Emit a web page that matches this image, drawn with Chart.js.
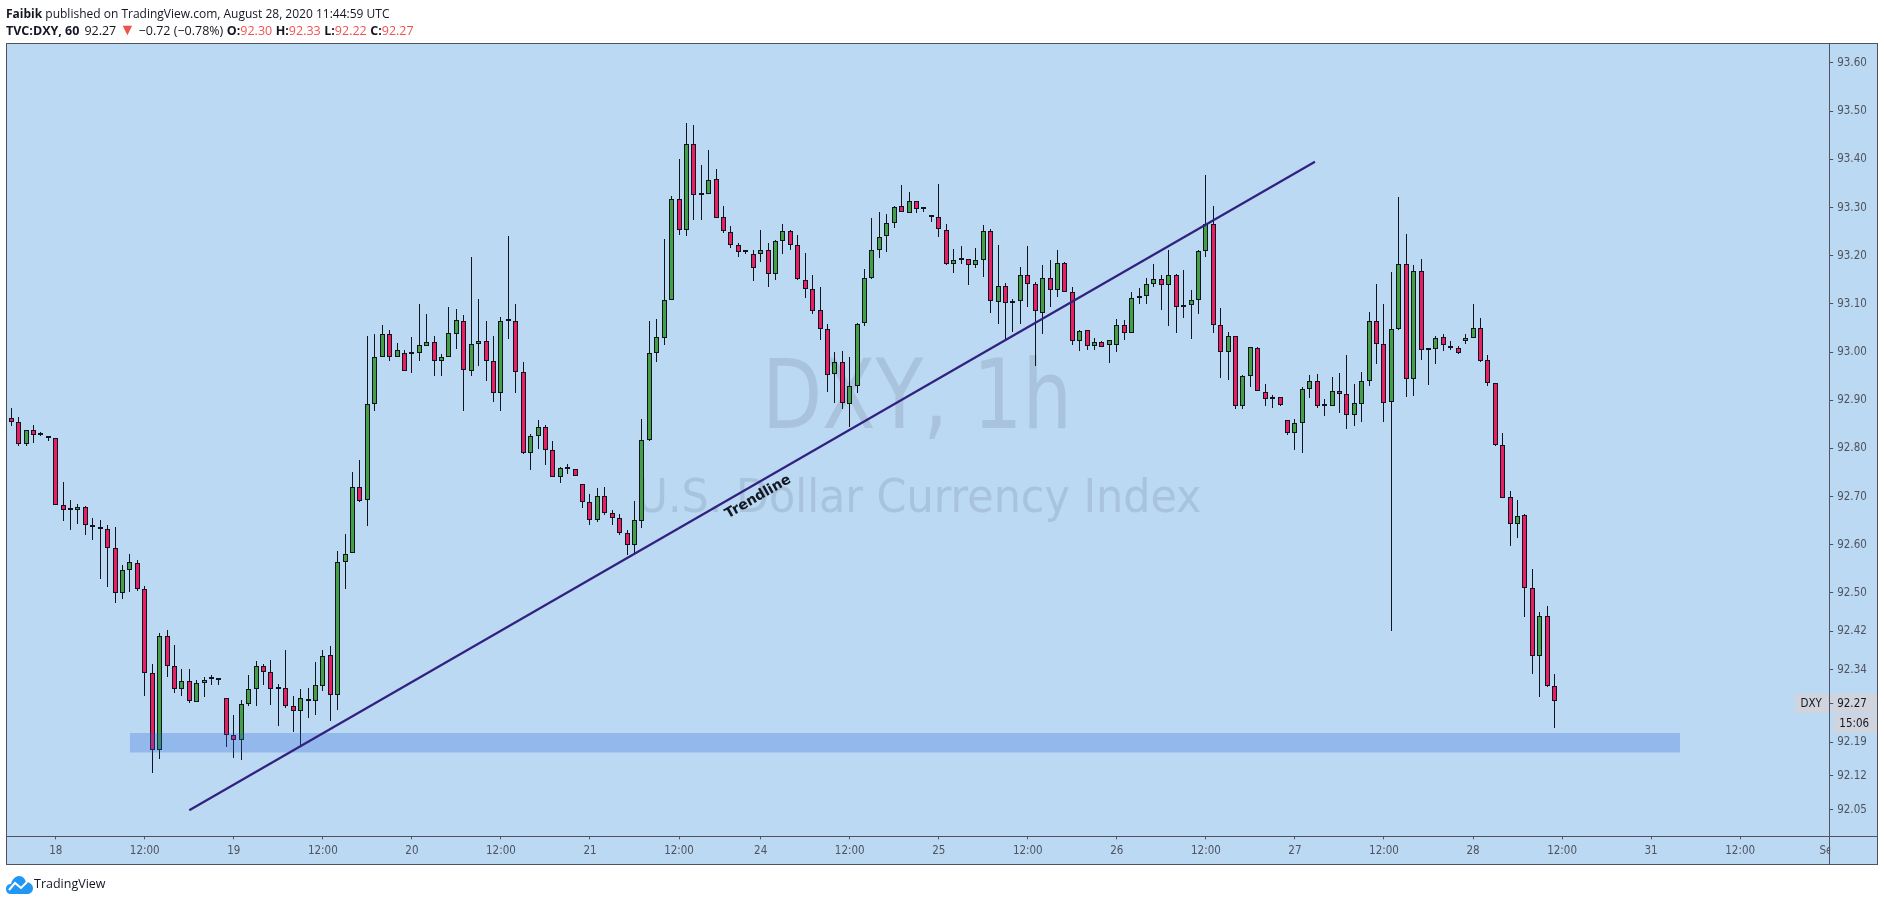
<!DOCTYPE html>
<html>
<head>
<meta charset="utf-8">
<title>DXY 1h</title>
<script src="https://cdn.jsdelivr.net/npm/chart.js@4"></script>
<style>
    html, body { margin: 0; padding: 0; background: #fff; width: 1884px; height: 902px; overflow: hidden; }
    #wrap { position: absolute; left: 0; top: 0; width: 1884px; height: 902px; }
    .hdr { position: absolute; left: 6px; font: 12px "Open Sans", sans-serif; color: #131722; white-space: nowrap; }
    .hdr b { font-weight: 700; }
    .hdr i { font-style: normal; color: #ef5350; }
    .hdr i.tri { font-size: 16px; line-height: 0; }
    #line1 { top: 5px; }
    #line2 { top: 22px; font-size: 12.5px; }
    #line2 span { margin-left: 3.5px; }
    #logo { position: absolute; left: 6px; top: 875px; }
    #brand { position: absolute; left: 34px; top: 875px; font: 12.5px "Open Sans", sans-serif; color: #131722; }
</style>
</head>
<body>
<div id="wrap"><canvas id="chart" width="1884" height="902"></canvas></div>
<div class="hdr" id="line1"><b>Faibik</b> published on TradingView.com, August 28, 2020 11:44:59 UTC</div>
<div class="hdr" id="line2"><b>TVC:DXY, 60</b><span style="margin-left:5px">92.27</span> <i class="tri">▼</i> −0.72 (−0.78%)<span><b>O:</b><i>92.30</i></span><span><b>H:</b><i>92.33</i></span><span><b>L:</b><i>92.22</i></span><span><b>C:</b><i>92.27</i></span></div>
<svg id="logo" width="27" height="19" viewBox="0 0 27 19"><path d="M0 14 C0 10 3 9 5 9 C6 4 10 1 13 1 C17 1 19 4 20 7 C24 7 27 10 27 13 C27 17 24 19 21 19 L5 19 C2 19 0 17 0 14 Z" fill="#2196f3"/><path d="M3 15 L9 8 L15 13 L21 7" fill="none" stroke="#fff" stroke-width="2"/></svg>
<div id="brand">TradingView</div>

<script>
// hourly bars, oldest first
const opens = [92.863,92.854,92.809,92.838,92.827,92.825,92.821,92.682,92.672,92.672,92.678,92.640,92.636,92.632,92.593,92.499,92.547,92.562,92.508,92.333,
    92.173,92.410,92.348,92.300,92.317,92.273,92.312,92.321,92.319,92.281,92.205,92.194,92.269,92.300,92.348,92.335,92.301,92.302,92.265,92.254,
    92.279,92.275,92.306,92.371,92.288,92.564,92.583,92.720,92.693,92.892,92.989,93.037,92.989,92.998,92.996,92.998,93.012,93.021,92.981,92.989,
    93.037,93.064,92.960,93.016,93.023,92.981,92.915,93.064,93.064,92.958,92.790,92.825,92.844,92.796,92.740,92.758,92.757,92.726,92.688,92.651,
    92.701,92.666,92.655,92.624,92.599,92.649,92.817,92.998,93.030,93.108,93.318,93.253,93.432,93.327,93.328,93.359,93.280,93.249,93.222,93.207,
    93.203,93.203,93.212,93.162,93.230,93.251,93.222,93.149,93.131,93.087,93.048,92.954,92.979,92.892,92.929,93.060,93.154,93.212,93.241,93.268,
    93.303,93.288,93.313,93.296,93.284,93.280,93.253,93.183,93.192,93.193,93.180,93.191,93.251,93.104,93.137,93.102,93.106,93.160,93.141,93.081,
    93.153,93.129,93.185,93.124,93.023,93.046,93.012,93.021,93.014,93.014,93.056,93.039,93.112,93.116,93.141,93.151,93.139,93.160,93.093,93.097,
    93.108,93.210,93.266,93.056,93.000,93.033,92.888,92.950,93.008,92.917,92.902,92.906,92.859,92.832,92.852,92.923,92.940,92.889,92.888,92.919,
    92.913,92.869,92.892,92.940,93.064,93.016,92.896,93.048,93.183,92.944,93.168,93.004,93.006,93.031,93.012,93.008,93.023,93.029,93.050,92.983,
    92.935,92.807,92.699,92.643,92.661,92.510,92.369,92.452,92.306];
const highs = [92.883,92.865,92.838,92.848,92.834,92.826,92.821,92.730,92.692,92.684,92.680,92.655,92.651,92.640,92.637,92.557,92.580,92.568,92.514,92.352,
    92.416,92.423,92.391,92.342,92.342,92.319,92.325,92.329,92.321,92.281,92.246,92.277,92.329,92.358,92.352,92.360,92.310,92.381,92.285,92.300,
    92.302,92.356,92.381,92.389,92.587,92.622,92.751,92.776,93.033,93.037,93.056,93.045,93.018,93.004,93.031,93.099,93.079,93.033,92.996,93.093,
    93.089,93.077,93.197,93.110,93.064,93.033,93.072,93.240,93.099,92.979,92.830,92.859,92.848,92.815,92.761,92.767,92.757,92.726,92.705,92.717,
    92.720,92.672,92.663,92.630,92.690,92.861,93.064,93.068,93.234,93.324,93.401,93.475,93.471,93.388,93.419,93.380,93.303,93.261,93.226,93.210,
    93.212,93.253,93.226,93.232,93.266,93.253,93.243,93.205,93.160,93.135,93.058,93.000,93.002,92.990,93.060,93.172,93.278,93.291,93.286,93.303,
    93.347,93.332,93.313,93.299,93.284,93.349,93.266,93.214,93.220,93.193,93.216,93.264,93.255,93.222,93.143,93.110,93.176,93.220,93.145,93.180,
    93.191,93.212,93.187,93.135,93.046,93.046,93.029,93.023,93.025,93.068,93.066,93.124,93.133,93.153,93.183,93.160,93.212,93.162,93.170,93.129,
    93.212,93.367,93.303,93.091,93.041,93.033,92.952,93.010,93.010,92.933,92.911,92.906,92.859,92.861,92.927,92.952,92.954,92.902,92.948,92.956,
    92.994,92.933,92.958,93.083,93.141,93.100,93.166,93.322,93.245,93.180,93.193,93.004,93.033,93.037,93.023,93.012,93.037,93.100,93.070,92.994,
    92.935,92.832,92.711,92.693,92.663,92.549,92.460,92.472,92.332];
const lows = [92.847,92.806,92.804,92.812,92.825,92.816,92.682,92.650,92.631,92.643,92.621,92.609,92.528,92.513,92.480,92.488,92.502,92.505,92.285,92.127,
    92.156,92.326,92.293,92.287,92.272,92.273,92.283,92.308,92.308,92.181,92.158,92.154,92.265,92.266,92.309,92.268,92.223,92.261,92.212,92.185,
    92.241,92.247,92.297,92.235,92.256,92.509,92.583,92.688,92.638,92.877,92.989,92.982,92.989,92.960,92.956,92.982,93.012,92.951,92.951,92.989,
    93.007,92.878,92.951,92.972,92.939,92.897,92.877,93.028,92.914,92.788,92.756,92.798,92.765,92.740,92.729,92.746,92.742,92.677,92.640,92.648,
    92.661,92.642,92.620,92.578,92.583,92.634,92.815,92.980,93.014,93.108,93.242,93.240,93.275,93.275,93.328,93.278,93.248,93.217,93.198,93.203,
    93.147,93.186,93.136,93.149,93.203,93.211,93.149,93.113,93.080,93.024,92.918,92.895,92.881,92.844,92.914,93.055,93.151,93.196,93.207,93.257,
    93.291,93.288,93.288,93.291,93.270,93.238,93.181,93.165,93.183,93.140,93.174,93.155,93.082,93.059,93.023,93.041,93.059,93.093,92.970,93.037,
    93.093,93.115,93.124,93.014,93.003,93.005,93.005,93.010,92.978,93.001,93.024,93.039,93.099,93.099,93.134,93.088,93.055,93.039,93.070,93.028,
    93.078,93.198,93.039,92.947,92.943,92.881,92.881,92.928,92.919,92.888,92.884,92.888,92.828,92.796,92.790,92.904,92.884,92.868,92.888,92.873,
    92.840,92.846,92.855,92.929,92.975,92.855,92.421,93.046,92.906,92.908,92.983,92.931,92.975,93.002,93.004,92.996,93.016,93.029,92.979,92.929,
    92.804,92.697,92.598,92.613,92.449,92.331,92.283,92.304,92.219];
const closes = [92.854,92.809,92.838,92.827,92.827,92.821,92.682,92.672,92.672,92.678,92.640,92.636,92.632,92.593,92.499,92.547,92.564,92.508,92.333,92.173,
    92.410,92.348,92.300,92.317,92.275,92.312,92.319,92.321,92.319,92.205,92.194,92.269,92.300,92.348,92.335,92.300,92.301,92.265,92.254,92.281,
    92.275,92.308,92.369,92.288,92.564,92.580,92.720,92.690,92.892,92.989,93.037,92.989,93.004,92.960,92.996,93.014,93.021,92.981,92.989,93.039,
    93.066,92.962,93.016,93.023,92.981,92.915,93.064,93.064,92.958,92.790,92.825,92.844,92.796,92.740,92.759,92.758,92.742,92.688,92.651,92.701,
    92.666,92.655,92.624,92.599,92.651,92.817,92.998,93.031,93.108,93.318,93.253,93.432,93.326,93.327,93.357,93.278,93.251,93.222,93.208,93.207,
    93.174,93.212,93.162,93.230,93.251,93.222,93.151,93.131,93.085,93.048,92.952,92.979,92.894,92.929,93.058,93.154,93.212,93.239,93.268,93.301,
    93.291,93.313,93.297,93.296,93.280,93.255,93.183,93.191,93.192,93.180,93.191,93.251,93.106,93.137,93.102,93.106,93.160,93.141,93.085,93.153,
    93.129,93.185,93.124,93.023,93.043,93.012,93.021,93.010,93.025,93.056,93.039,93.112,93.116,93.141,93.151,93.139,93.160,93.093,93.097,93.108,
    93.210,93.266,93.056,93.000,93.033,92.888,92.950,93.010,92.919,92.902,92.906,92.890,92.832,92.852,92.923,92.940,92.888,92.889,92.919,92.913,
    92.869,92.894,92.940,93.064,93.016,92.894,93.048,93.183,92.944,93.168,93.004,93.004,93.029,93.014,93.008,92.998,93.029,93.050,92.981,92.935,
    92.807,92.697,92.643,92.659,92.510,92.369,92.452,92.306,92.275];

// time axis: bar index of each tick and its label
const tickBars = [6,18,30,42,54,66,78,90,101,113,125,137,149,161,173,185,197,209,221,233,245];
const tickLabels = ['18','12:00','19','12:00','20','12:00','21','12:00','24','12:00','25','12:00','26','12:00','27','12:00','28','12:00','31','12:00','Sep'];
// price axis
const priceTicks = [93.60,93.50,93.40,93.30,93.20,93.10,93.00,92.90,92.80,92.70,92.60,92.50,92.42,92.34,92.27,92.19,92.12,92.05];
const lastPrice = 92.27;

// drawings
const trendBars = [24.0, 175.7];
const trendPrices = [92.049, 93.395];
const zoneBars = [16.0, 224.9];
const zoneTop = 92.209;
const zoneBottom = 92.169;

const barIndex = opens.map((_, i) => i);
const UP = '#43a047';
const DOWN = '#e91e63';
const EDGE = '#10141f';
const BG = '#bbd9f3';
const AXIS = '#50535e';
const AXIS_FONT = '"DejaVu Sans Condensed", "DejaVu Sans"';

// snap bars to whole pixels so the 1px wicks stay sharp
const snapBars = {
    id: 'snapBars',
    afterDatasetsUpdate(chart) {
        chart.data.datasets.forEach((ds, n) => {
            if (ds.type !== 'bar') return;
            chart.getDatasetMeta(n).data.forEach(el => {
                el.x = Math.floor(el.x) + 0.5;
                el.y = Math.round(el.y);
                el.base = Math.round(el.base);
            });
        });
    }
};

// pane background, watermark and price label boxes
const backdrop = {
    id: 'backdrop',
    beforeDraw(chart) {
        const ctx = chart.ctx;
        const a = chart.chartArea;
        const y = chart.scales.y;
        const py = Math.round(y.getPixelForValue(lastPrice));
        ctx.save();
        ctx.fillStyle = BG;
        ctx.fillRect(6, 43, 1872, 822);
        ctx.fillStyle = '#d1d4dc';
        ctx.fillRect(a.right - 34, py - 10, 33, 19);
        ctx.fillRect(a.right + 1, py - 10, 47, 19);
        ctx.fillRect(a.right + 5, py + 11, 43, 18);
        ctx.fillStyle = '#a9c3dc';
        ctx.textAlign = 'center';
        ctx.textBaseline = 'alphabetic';
        ctx.font = '96px "DejaVu Sans"';
        ctx.fillText('DXY, 1h', 917, 428, 310);
        ctx.font = '46px "DejaVu Sans"';
        ctx.fillText('U.S. Dollar Currency Index', 919, 512, 565);
        ctx.restore();
    },
    afterDraw(chart) {
        const ctx = chart.ctx;
        const a = chart.chartArea;
        const y = chart.scales.y;
        const py = Math.round(y.getPixelForValue(lastPrice));
        ctx.save();
        // the last time label is cut off by the price axis
        ctx.fillStyle = BG;
        ctx.fillRect(a.right + 1, a.bottom + 1, 47, 27);
        ctx.strokeStyle = AXIS;
        ctx.lineWidth = 1;
        ctx.strokeRect(6.5, 43.5, 1871, 821);
        ctx.beginPath();
        ctx.moveTo(Math.floor(a.right) + 0.5, 43);
        ctx.lineTo(Math.floor(a.right) + 0.5, 865);
        ctx.moveTo(6, Math.floor(a.bottom) + 0.5);
        ctx.lineTo(1878, Math.floor(a.bottom) + 0.5);
        ctx.stroke();
        ctx.font = '11.5px ' + AXIS_FONT;
        ctx.fillStyle = '#131722';
        ctx.textAlign = 'center';
        ctx.textBaseline = 'middle';
        ctx.fillText('DXY', a.right - 18, py);
        ctx.fillText('15:06', a.right + 25, py + 20);
        // label on the trendline
        ctx.translate(758, 497);
        ctx.rotate(-Math.atan(0.5754));
        ctx.font = 'bold 14px "DejaVu Sans"';
        ctx.fillStyle = '#131722';
        ctx.fillText('Trendline', 0, 0);
        ctx.restore();
    }
};

Chart.defaults.animation = false;

new Chart(document.getElementById('chart').getContext('2d'), {
    type: 'bar',
    data: {
        datasets: [
            {
                type: 'line',
                order: 0,
                data: trendBars.map((b, i) => ({ x: b, y: trendPrices[i] })),
                borderColor: '#32217f',
                borderWidth: 2.2,
                pointRadius: 0,
                fill: false
            },
            {
                type: 'line',
                order: 1,
                data: zoneBars.map(b => ({ x: b, y: zoneTop })),
                borderWidth: 0,
                pointRadius: 0,
                backgroundColor: 'rgba(41,98,219,0.27)',
                fill: { value: zoneBottom }
            },
            {
                type: 'bar',
                order: 2,
                grouped: false,
                data: barIndex.map(i => ({ x: i, y: [opens[i], closes[i]] })),
                backgroundColor: barIndex.map(i => closes[i] >= opens[i] ? UP : DOWN),
                borderColor: EDGE,
                borderWidth: 1,
                borderSkipped: false,
                inflateAmount: 0,
                barThickness: 5,
                minBarLength: 2
            },
            {
                type: 'bar',
                order: 3,
                grouped: false,
                data: barIndex.map(i => ({ x: i, y: [lows[i], highs[i]] })),
                backgroundColor: EDGE,
                borderWidth: 0,
                inflateAmount: 0,
                barThickness: 1
            }
        ]
    },
    options: {
        responsive: false,
        animation: false,
        layout: { padding: { left: 6, top: 43, right: 6, bottom: 37 } },
        plugins: { legend: { display: false }, tooltip: { enabled: false } },
        scales: {
            x: {
                type: 'linear',
                min: -0.7,
                max: 245,
                offset: false,
                afterBuildTicks: s => { s.ticks = tickBars.map(v => ({ value: v })); },
                afterFit: s => { s.height = 28.7; },
                grid: { offset: false, drawOnChartArea: false, tickLength: 3, color: AXIS },
                border: { color: AXIS },
                ticks: {
                    autoSkip: false,
                    maxRotation: 0,
                    color: AXIS,
                    font: { family: AXIS_FONT, size: 11.5 },
                    padding: 5,
                    callback: v => tickLabels[tickBars.indexOf(v)]
                }
            },
            y: {
                type: 'linear',
                position: 'right',
                min: 91.9948,
                max: 93.6415,
                afterBuildTicks: s => { s.ticks = priceTicks.map(v => ({ value: v })); },
                afterFit: s => { s.width = 48.8; },
                grid: { drawOnChartArea: false, tickLength: 4, color: AXIS },
                border: { color: AXIS },
                ticks: {
                    autoSkip: false,
                    color: c => c.tick.value === lastPrice ? '#131722' : AXIS,
                    font: { family: AXIS_FONT, size: 11.5 },
                    padding: 4,
                    callback: v => v.toFixed(2)
                }
            }
        }
    },
    plugins: [snapBars, backdrop]
});
</script>
</body>
</html>
